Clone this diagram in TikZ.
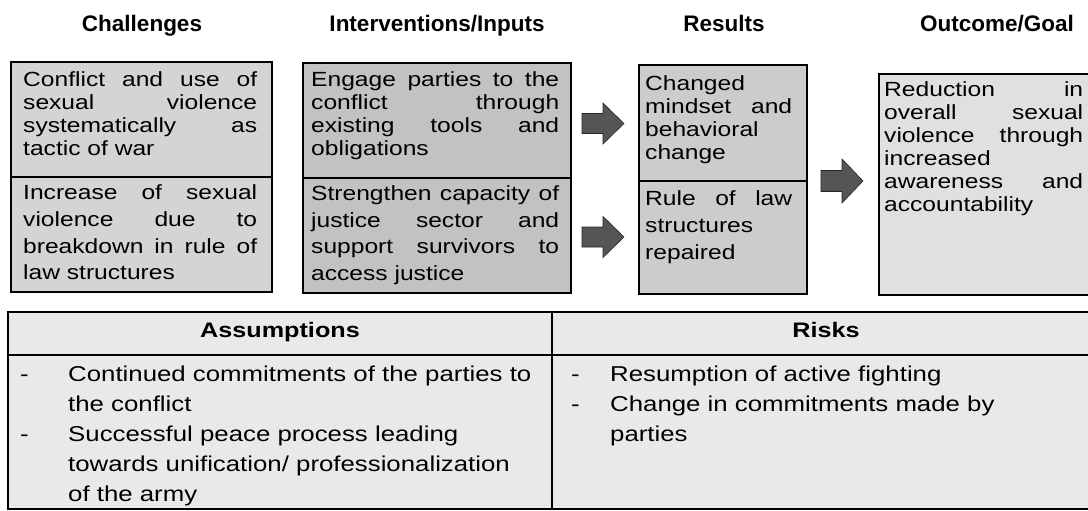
\documentclass[tikz,border=0pt]{standalone}
\usepackage{fontspec}
\setmainfont{Liberation Sans}[FakeStretch=1.2]
\newfontfamily\hdrfont{Liberation Sans}
\definecolor{chalfill}{HTML}{D4D4D4}
\definecolor{intfill}{HTML}{C2C2C2}
\definecolor{resfill}{HTML}{CCCCCC}
\definecolor{outfill}{HTML}{E0E0E0}
\definecolor{tabfill}{HTML}{E9E9E9}
\definecolor{arrfill}{HTML}{555555}
\newcommand\J[1]{\makebox[\linewidth][s]{#1}}
\newcommand\boxfont{\fontsize{20.5}{23}\selectfont}
\newcommand\boxfontb{\fontsize{20.5}{27}\selectfont}
\newcommand\tabfont{\fontsize{21.5}{30}\selectfont}
\tikzset{
  panel/.style={draw=black, line width=1.2pt, inner sep=0pt},
  divider/.style={line width=1.8pt},
  hdr/.style={font=\hdrfont\bfseries\fontsize{22.5}{26}\selectfont, anchor=base, inner sep=0pt},
  thdr/.style={font=\bfseries\fontsize{21}{26}\selectfont, anchor=base, inner sep=0pt},
  boxtxt/.style={anchor=base west, inner sep=0pt, font=\boxfont},
  boxtxtb/.style={anchor=base west, inner sep=0pt, font=\boxfontb},
  tabtxt/.style={anchor=base west, inner sep=0pt, font=\tabfont},
  blockarrow/.style={fill=arrfill, draw=black!85, line width=0.6pt}
}
% block arrow: name, left x, centre y, half shaft, half head
\newcommand\barrow[5]{%
  \coordinate (#1) at (#2,#3);
  \path[blockarrow] (#1) ++(0,-#4) -- ++(21,0) -- ++(0,#4-#5) -- ++(21,#5) -- ++(-21,#5) -- ++(0,#4-#5) -- ++(-21,0) -- cycle;}
\begin{document}
\begin{tikzpicture}[x=1pt, y=-1pt]
\useasboundingbox (0,0) rectangle (1088,511);
\clip (0,0) rectangle (1088,511);
\fill[white] (0,0) rectangle (1088,511);
% headers
\node[hdr] (h1) at (142,32) {Challenges};
\node[hdr] (h2) at (437,32) {Interventions/Inputs};
\node[hdr] (h3) at (724,32) {Results};
\node[hdr] (h4) at (997,32) {Outcome/Goal};
% boxes
\path[panel, fill=chalfill] (11,62) rectangle (272,292);
\node[inner sep=0] (chal) at (141.5,177) {};
\draw[divider] (11,177) -- (272,177);
\path[panel, fill=intfill] (303,63) rectangle (571,293);
\node[inner sep=0] (intv) at (437,178) {};
\draw[divider] (303,178) -- (571,178);
\path[panel, fill=resfill] (639,65) rectangle (807,294);
\node[inner sep=0] (res) at (723,179.5) {};
\draw[divider] (639,181) -- (807,181);
\path[panel, fill=outfill] (879,74) rectangle (1120,295);
\node[inner sep=0] (outc) at (999,184.5) {};
% box texts
\node[boxtxt] (c1) at (23,87) {\parbox[t]{234pt}{\J{Conflict and use of}\\\J{sexual violence}\\\J{systematically as}\\tactic of war}};
\node[boxtxtb] (c2) at (23,199) {\parbox[t]{234pt}{\J{Increase of sexual}\\\J{violence due to}\\\J{breakdown in rule of}\\law structures}};
\node[boxtxt] (i1) at (311,87) {\parbox[t]{248pt}{\J{Engage parties to the}\\\J{conflict through}\\\J{existing tools and}\\obligations}};
\node[boxtxtb] (i2) at (311,200) {\parbox[t]{248pt}{\J{Strengthen capacity of}\\\J{justice sector and}\\\J{support survivors to}\\access justice}};
\node[boxtxt] (r1) at (645,91) {\parbox[t]{147pt}{Changed\\\J{mindset and}\\behavioral\\change}};
\node[boxtxtb] (r2) at (645,205) {\parbox[t]{147pt}{\J{Rule of law}\\structures\\repaired}};
\node[boxtxt] (o1) at (884,97) {\parbox[t]{199pt}{\J{Reduction in}\\\J{overall sexual}\\\J{violence through}\\increased\\\J{awareness and}\\accountability}};
% arrows
\barrow{a1}{582}{123.5}{10}{20.5}
\barrow{a2}{582}{237}{10}{20.5}
\barrow{a3}{821}{181}{10.5}{22}
% table
\path[panel, fill=tabfill] (8,312) rectangle (1120,509);
\draw[divider] (8,355) -- (1120,355);
\draw[divider] (552,312) -- (552,509);
\node[thdr] (ta) at (280,337) {Assumptions};
\node[thdr] (tr) at (826,337) {Risks};
\node[tabtxt] (d1) at (20,381) {-};
\node[tabtxt] (s1) at (68,381) {\parbox[t]{470pt}{Continued commitments of the parties to\\the conflict}};
\node[tabtxt] (d2) at (20,441) {-};
\node[tabtxt] (s2) at (68,441) {\parbox[t]{470pt}{Successful peace process leading\\towards unification/ professionalization\\of the army}};
\node[tabtxt] (d3) at (571,381) {-};
\node[tabtxt] (k1) at (610,381) {Resumption of active fighting};
\node[tabtxt] (d4) at (571,411) {-};
\node[tabtxt] (k2) at (610,411) {\parbox[t]{400pt}{Change in commitments made by\\parties}};
\end{tikzpicture}
\end{document}
